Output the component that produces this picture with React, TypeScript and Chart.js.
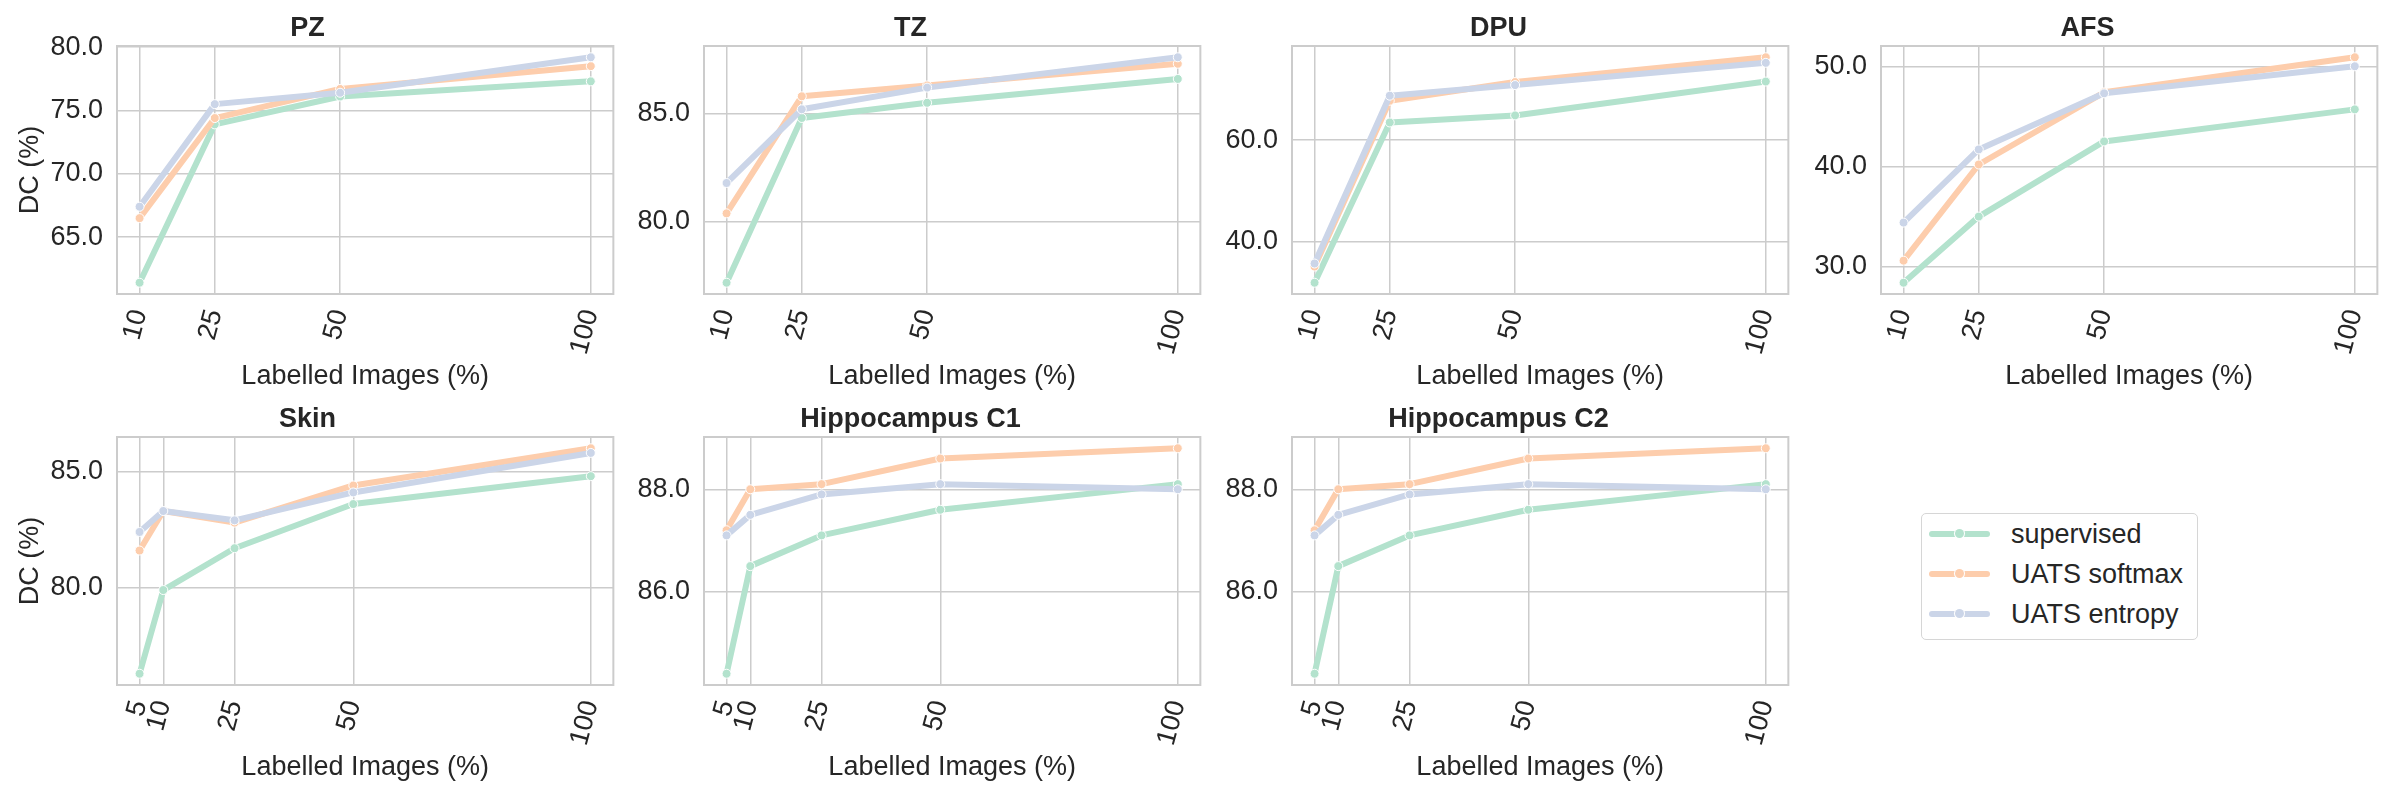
import { useEffect, useRef } from 'react';
import { Chart, registerables } from 'chart.js';

Chart.register(...registerables);

const FONT = "'Liberation Sans', Arial, sans-serif";
const FONT_SIZE = 27;
const TEXT = '#262626';
const GRID = '#cccccc';

const SERIES = ['supervised', 'UATS softmax', 'UATS entropy'];
const COLORS = ['#b3e2cd', '#fdcdac', '#cbd5e8'];

const X_TOP = [10, 25, 50, 100];
const X_BOTTOM = [5, 10, 25, 50, 100];

const pzSupervised = [61.4, 73.9, 76.1, 77.3];
const pzSoftmax = [66.5, 74.4, 76.7, 78.5];
const pzEntropy = [67.4, 75.5, 76.4, 79.2];
const pzTicks = [65, 70, 75, 80];

const tzSupervised = [77.2, 84.8, 85.5, 86.6];
const tzSoftmax = [80.4, 85.8, 86.3, 87.3];
const tzEntropy = [81.8, 85.2, 86.2, 87.6];
const tzTicks = [80, 85];

const dpuSupervised = [31.8, 63.5, 64.9, 71.6];
const dpuSoftmax = [35.0, 67.8, 71.5, 76.4];
const dpuEntropy = [35.6, 68.8, 70.9, 75.3];
const dpuTicks = [40, 60];

const afsSupervised = [28.4, 35.0, 42.5, 45.7];
const afsSoftmax = [30.6, 40.2, 47.4, 50.9];
const afsEntropy = [34.4, 41.7, 47.3, 50.0];
const afsTicks = [30, 40, 50];

const skinSupervised = [76.3, 79.9, 81.7, 83.6, 84.8];
const skinSoftmax = [81.6, 83.3, 82.8, 84.4, 86.0];
const skinEntropy = [82.4, 83.3, 82.9, 84.1, 85.8];
const skinTicks = [80, 85];

const hc1Supervised = [84.4, 86.5, 87.1, 87.6, 88.1];
const hc1Softmax = [87.2, 88.0, 88.1, 88.6, 88.8];
const hc1Entropy = [87.1, 87.5, 87.9, 88.1, 88.0];
const hc1Ticks = [86, 88];

const hc2Supervised = [84.4, 86.5, 87.1, 87.6, 88.1];
const hc2Softmax = [87.2, 88.0, 88.1, 88.6, 88.8];
const hc2Entropy = [87.1, 87.5, 87.9, 88.1, 88.0];
const hc2Ticks = [86, 88];

type Panel = {
  title: string;
  x: number[];
  series: number[][];
  yTicks: number[];
  col: number;
  row: number;
};

const PANELS: Panel[] = [
  { title: 'PZ', x: X_TOP, series: [pzSupervised, pzSoftmax, pzEntropy], yTicks: pzTicks, col: 0, row: 0 },
  { title: 'TZ', x: X_TOP, series: [tzSupervised, tzSoftmax, tzEntropy], yTicks: tzTicks, col: 1, row: 0 },
  { title: 'DPU', x: X_TOP, series: [dpuSupervised, dpuSoftmax, dpuEntropy], yTicks: dpuTicks, col: 2, row: 0 },
  { title: 'AFS', x: X_TOP, series: [afsSupervised, afsSoftmax, afsEntropy], yTicks: afsTicks, col: 3, row: 0 },
  { title: 'Skin', x: X_BOTTOM, series: [skinSupervised, skinSoftmax, skinEntropy], yTicks: skinTicks, col: 0, row: 1 },
  { title: 'Hippocampus C1', x: X_BOTTOM, series: [hc1Supervised, hc1Softmax, hc1Entropy], yTicks: hc1Ticks, col: 1, row: 1 },
  { title: 'Hippocampus C2', x: X_BOTTOM, series: [hc2Supervised, hc2Softmax, hc2Entropy], yTicks: hc2Ticks, col: 2, row: 1 },
];

// layout (page pixels)
const PLOT_LEFT = [117, 704, 1292, 1881];
const ROW_TOP = [0, 391];
const PLOT_W = 498;
const TITLE_H = 46;
const PLOT_H = 248;
const XAXIS_H = 100;
const RIGHT_PAD = 20;

// matplotlib-like 5% margins
function padded(values: number[]) {
  const lo = Math.min(...values);
  const hi = Math.max(...values);
  const m = (hi - lo) * 0.05;
  return [lo - m, hi + m];
}

const framePlugin = {
  id: 'frame',
  afterDatasetsDraw(chart: any) {
    const { ctx, chartArea: a } = chart;
    ctx.save();
    ctx.strokeStyle = GRID;
    ctx.lineWidth = 2;
    ctx.strokeRect(a.left, a.top, a.right - a.left, a.bottom - a.top);
    ctx.restore();
  },
};

function PanelChart({ panel }: { panel: Panel }) {
  const canvasRef = useRef<HTMLCanvasElement>(null);
  const first = panel.col === 0;
  const yAxisW = first ? 117 : 85;
  const width = yAxisW + PLOT_W + RIGHT_PAD;
  const height = TITLE_H + PLOT_H + XAXIS_H;
  const left = PLOT_LEFT[panel.col] - yAxisW;
  const top = ROW_TOP[panel.row];

  useEffect(() => {
    const canvas = canvasRef.current;
    if (!canvas) return;
    const [xMin, xMax] = padded(panel.x);
    const [yMin, yMax] = padded(panel.series.flat());
    const chart = new Chart(canvas, {
      type: 'line',
      data: {
        datasets: panel.series.map((vals, i) => ({
          label: SERIES[i],
          data: vals.map((v, j) => ({ x: panel.x[j], y: v })),
          borderColor: COLORS[i],
          backgroundColor: COLORS[i],
          pointBackgroundColor: COLORS[i],
          pointBorderColor: '#ffffff',
          pointBorderWidth: 1,
          pointRadius: 4.5,
          borderWidth: 6,
          borderJoinStyle: 'round',
          tension: 0,
          order: 3 - i,
        })),
      },
      options: {
        animation: false,
        responsive: false,
        layout: { padding: { right: RIGHT_PAD } },
        plugins: {
          legend: { display: false },
          tooltip: { enabled: false },
          title: {
            display: true,
            text: panel.title,
            color: TEXT,
            font: { family: FONT, size: FONT_SIZE, weight: 'bold', lineHeight: 1.2 },
            padding: { top: 12.8, bottom: 0.8 },
          },
        },
        scales: {
          x: {
            type: 'linear',
            min: xMin,
            max: xMax,
            afterBuildTicks: (axis: any) => {
              axis.ticks = panel.x.map((v) => ({ value: v }));
            },
            afterFit: (axis: any) => {
              axis.height = XAXIS_H;
            },
            grid: { color: GRID, lineWidth: 1.5, drawTicks: false },
            border: { display: false },
            ticks: {
              color: TEXT,
              font: { family: FONT, size: FONT_SIZE },
              minRotation: 75,
              maxRotation: 75,
              padding: 12,
              autoSkip: false,
            },
            title: {
              display: true,
              text: 'Labelled Images (%)',
              color: TEXT,
              font: { family: FONT, size: FONT_SIZE, lineHeight: 1.2 },
              padding: { top: 0, bottom: 1 },
            },
          },
          y: {
            type: 'linear',
            min: yMin,
            max: yMax,
            afterBuildTicks: (axis: any) => {
              axis.ticks = panel.yTicks.map((v) => ({ value: v }));
            },
            afterFit: (axis: any) => {
              axis.width = yAxisW;
            },
            grid: { color: GRID, lineWidth: 1.5, drawTicks: false },
            border: { display: false },
            ticks: {
              color: TEXT,
              font: { family: FONT, size: FONT_SIZE },
              padding: 14,
              callback: (v: any) => Number(v).toFixed(1),
            },
            title: {
              display: first,
              text: 'DC (%)',
              color: TEXT,
              font: { family: FONT, size: FONT_SIZE, lineHeight: 1.2 },
              padding: { top: 14, bottom: 0 },
            },
          },
        },
      },
      plugins: [framePlugin],
    } as any);
    return () => {
      chart.destroy();
    };
  }, [panel]);

  return (
    <canvas
      ref={canvasRef}
      width={width}
      height={height}
      style={{ position: 'absolute', left, top, width, height }}
    />
  );
}

function Legend() {
  return (
    <div
      style={{
        position: 'absolute',
        left: 1921,
        top: 513,
        height: 125,
        padding: '0 14px 0 0',
        border: '1.5px solid #d6d6d6',
        borderRadius: 5,
        background: '#ffffff',
        fontFamily: FONT,
        fontSize: FONT_SIZE,
        color: TEXT,
      }}
    >
      {SERIES.map((name, i) => (
        <div key={name} style={{ display: 'flex', alignItems: 'center', height: 40 }}>
          <div
            style={{
              position: 'relative',
              marginLeft: 7,
              width: 61,
              height: 6,
              borderRadius: 3,
              background: COLORS[i],
            }}
          >
            <div
              style={{
                position: 'absolute',
                left: 26,
                top: -2,
                width: 9,
                height: 9,
                borderRadius: '50%',
                background: COLORS[i],
                boxShadow: '0 0 0 1px #ffffff',
              }}
            />
          </div>
          <span style={{ marginLeft: 21, whiteSpace: 'nowrap' }}>{name}</span>
        </div>
      ))}
    </div>
  );
}

export default function App() {
  return (
    <div
      style={{
        position: 'fixed',
        left: 0,
        top: 0,
        width: 2400,
        height: 800,
        background: '#ffffff',
      }}
    >
      {PANELS.map((p) => (
        <PanelChart key={p.title} panel={p} />
      ))}
      <Legend />
    </div>
  );
}
